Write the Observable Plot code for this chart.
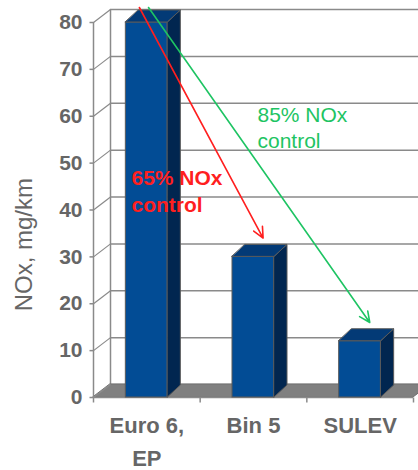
<!DOCTYPE html>
<html>
<head>
<meta charset="utf-8">
<script src="https://cdn.jsdelivr.net/npm/d3@7"></script>
<script src="https://cdn.jsdelivr.net/npm/@observablehq/plot@0.6"></script>
<style>
  html, body { margin: 0; padding: 0; background: #ffffff; overflow: hidden; }
  #chart { width: 418px; height: 470px; }
</style>
</head>
<body>
<div id="chart"></div>
<script>
// ---- data ----
const categories = ["Euro 6,\nEP", "Bin 5", "SULEV"];
const values = [80, 30, 12];
const yTicks = [0, 10, 20, 30, 40, 50, 60, 70, 80];
const yLabel = "NOx, mg/km";
const controlLabels = ["65% NOx\ncontrol", "85% NOx\ncontrol"];
const controlTargets = [1, 2];   // index of the category each arrow points to
const controlColors = ["#ff1f1f", "#1ec463"];

// ---- geometry (pixel -> data conversions for the pseudo-3D look) ----
const W = 418, H = 470;
const mL = 93, mR = 5, mT = 22, mB = 73;
const pxX = (W - mL - mR) / 3;      // pixels per category unit
const pxY = (H - mT - mB) / 80;     // pixels per y unit
const wallDX = 17 / pxX, wallDY = 13 / pxY;   // wall depth
const barDX = 13 / pxX, barDY = 12 / pxY;     // bar depth
const halfW = 21 / pxX;                       // half bar front width

const bars = values.map((v, i) => ({cat: categories[i], c: i + 0.5, v}));

// polygons as two-row areas (x1,y1)->(x2,y2)
const quad = (id, A, B, C, D) => [
  {id, x1: A[0], y1: A[1], x2: D[0], y2: D[1]},
  {id, x1: B[0], y1: B[1], x2: C[0], y2: C[1]}
];
const sideFaces = bars.flatMap((b, i) => {
  const x = b.c + halfW;
  return quad("s" + i, [x, 0], [x + barDX, barDY], [x + barDX, b.v + barDY], [x, b.v]);
});
const topFaces = bars.flatMap((b, i) => {
  const xa = b.c - halfW, xb = b.c + halfW;
  return quad("t" + i, [xa, b.v], [xb, b.v], [xb + barDX, b.v + barDY], [xa + barDX, b.v + barDY]);
});
const floor = quad("floor", [0, 0], [3, 0], [3 + wallDX, wallDY], [wallDX, wallDY]);

const arrows = controlTargets.map((t, k) => ({
  x1: 0.5 + (k === 0 ? -0.07 : 0.016),
  y1: values[0] + 3.2,
  x2: t + 0.5 + 0.09,
  y2: values[t] + 4,
  color: controlColors[k]
}));

const gray = "#8a8a8a";
const textGray = "#666666";

const plot = Plot.plot({
  width: W,
  height: H,
  marginLeft: mL,
  marginRight: mR,
  marginTop: mT,
  marginBottom: mB,
  x: {type: "linear", domain: [0, 3], axis: null},
  y: {type: "linear", domain: [0, 80], axis: null},
  style: {fontFamily: "'Liberation Sans', Arial, sans-serif", background: "#ffffff", overflow: "hidden"},
  marks: [
    // back wall gridlines
    Plot.ruleY(yTicks, {y: d => d + wallDY, x1: wallDX, x2: 3.3, stroke: gray, strokeWidth: 1.5}),
    // back wall left edge
    Plot.ruleX([wallDX], {y1: wallDY, y2: 80 + wallDY, stroke: gray, strokeWidth: 1.5}),
    // floor
    Plot.area(floor, {x1: "x1", y1: "y1", x2: "x2", y2: "y2", z: "id", fill: "#808080", stroke: "#707070", strokeWidth: 1}),
    // side-wall diagonal tick connectors
    Plot.link(yTicks, {x1: 0, y1: d => d, x2: wallDX, y2: d => d + wallDY, stroke: gray, strokeWidth: 1.2}),
    // front y axis line and ticks
    Plot.ruleX([0], {y1: 0, y2: 80, stroke: gray, strokeWidth: 1.5}),
    Plot.link(yTicks, {x1: -4 / pxX, x2: 0, y1: d => d, y2: d => d, stroke: gray, strokeWidth: 1.5}),
    // front x axis line and ticks
    Plot.ruleY([0], {x1: 0, x2: 3, stroke: gray, strokeWidth: 1.5}),
    Plot.link([0, 1, 2, 3], {x1: d => d, x2: d => d, y1: 0, y2: -5 / pxY, stroke: gray, strokeWidth: 1.5}),
    // bars: front, side, top
    Plot.rect(bars, {x1: d => d.c - halfW, x2: d => d.c + halfW, y1: 0, y2: "v", fill: "#024c95", stroke: "#5a5a5a", strokeWidth: 1}),
    Plot.area(sideFaces, {x1: "x1", y1: "y1", x2: "x2", y2: "y2", z: "id", fill: "#012650", stroke: "#5a5a5a", strokeWidth: 1}),
    Plot.area(topFaces, {x1: "x1", y1: "y1", x2: "x2", y2: "y2", z: "id", fill: "#033a76", stroke: "#5a5a5a", strokeWidth: 1}),
    // arrows
    Plot.arrow(arrows, {x1: "x1", y1: "y1", x2: "x2", y2: "y2", stroke: "color", strokeWidth: 1.6, headLength: 11, headAngle: 50}),
    // y tick labels
    Plot.text(yTicks, {x: 0, y: d => d, text: d => String(d), dx: -11, textAnchor: "end", fontSize: 21, fontWeight: "bold", fill: textGray}),
    // x category labels
    Plot.text(bars, {x: "c", y: 0, text: "cat", dy: 12, lineAnchor: "top", lineHeight: 1.5, fontSize: 22, fontWeight: "bold", fill: textGray, textAnchor: "middle", letterSpacing: "1.3px"}),
    // y axis title
    Plot.text([yLabel], {x: -69 / pxX, y: 32.6, text: d => d, rotate: -90, fontSize: 24, fill: textGray, textAnchor: "middle", letterSpacing: "2.8px"}),
    // control annotations
    Plot.text([controlLabels[0]], {x: 0.356, y: 49.5, text: d => d, lineAnchor: "top", textAnchor: "start", fontSize: 21, fontWeight: "bold", fill: controlColors[0], lineHeight: 1.3}),
    Plot.text([controlLabels[1]], {x: 1.537, y: 62.8, text: d => d, lineAnchor: "top", textAnchor: "start", fontSize: 21, fill: controlColors[1], lineHeight: 1.25})
  ]
});
document.getElementById("chart").appendChild(plot);
</script>
</body>
</html>
